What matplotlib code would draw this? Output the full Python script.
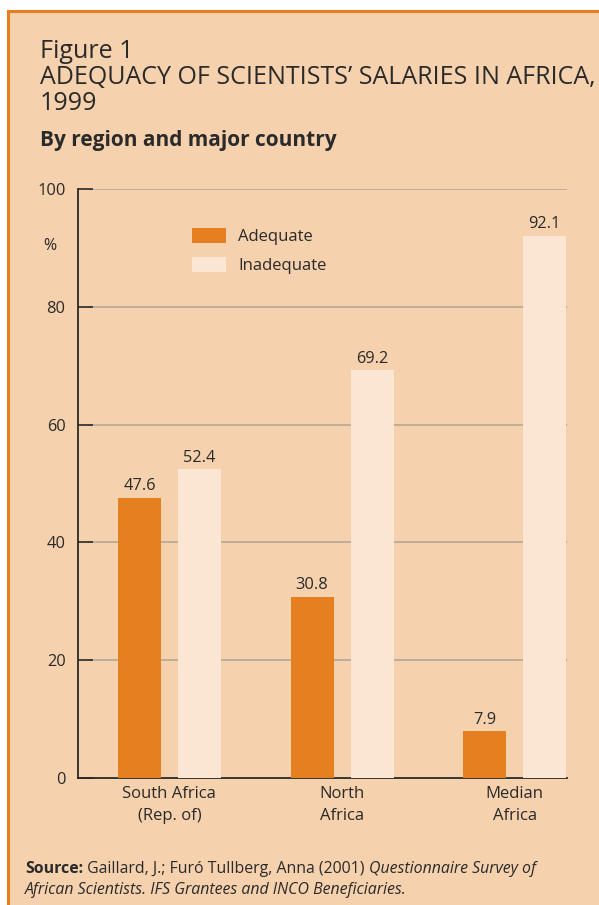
import matplotlib
matplotlib.use("Agg")
import matplotlib.pyplot as plt
import numpy as np
from matplotlib.patches import Rectangle

plt.rcParams['font.family'] = ['Open Sans', 'DejaVu Sans']

regions = ["South Africa\n(Rep. of)", "North\nAfrica", "Median\nAfrica"]
adequate = [47.6, 30.8, 7.9]
inadequate = [52.4, 69.2, 92.1]
yticks = [0, 20, 40, 60, 80, 100]

bg = '#F5D1AD'
orange = '#E4801F'
light = '#FAE6D3'
dark = '#2A2A2A'

fig = plt.figure(figsize=(5.99, 9.05), dpi=100)
fig.patch.set_facecolor('white')
# panel with orange border
panel = Rectangle((8/599, -0.01), 1.0, 1 - 11.5/905 + 0.01, transform=fig.transFigure,
                  facecolor=bg, edgecolor='#E4801F', linewidth=2.2, zorder=-5)
fig.patches.append(panel)

ax = fig.add_axes([78/599, 1 - 778/905, (567 - 78)/599, (778 - 189)/905])
ax.set_facecolor('none')
ax.set_zorder(2)

x = np.arange(len(regions))
w = 0.249
off = 0.1734
b1 = ax.bar(x - off, adequate, w, color=orange, label='Adequate', zorder=3)
b2 = ax.bar(x + off, inadequate, w, color=light, label='Inadequate', zorder=3)

for bars, vals in [(b1, adequate), (b2, inadequate)]:
    for r, v in zip(bars, vals):
        ax.annotate(f"{v:.1f}", (r.get_x() + r.get_width()/2, v), xytext=(0, 2.5),
                    textcoords='offset points', ha='center', va='bottom',
                    fontsize=11.8, color=dark)

ax.set_xlim(-0.529, 2.302)
ax.set_ylim(0, 100)
ax.set_yticks(yticks)
ax.set_yticklabels([str(t) for t in yticks], fontsize=11.8, color=dark)
ax.tick_params(axis='y', direction='in', length=11, width=1.2, color=dark, pad=9)
ax.set_xticks(x)
ax.set_xticklabels(regions, fontsize=12, color=dark, linespacing=1.5)
ax.tick_params(axis='x', length=0, pad=6)

for t in yticks[1:]:
    ax.axhline(t, xmin=11/489, xmax=1, color='#B0A494', lw=1.1, zorder=1)

for s in ['top', 'right']:
    ax.spines[s].set_visible(False)
ax.spines['left'].set_color(dark)
ax.spines['left'].set_linewidth(1.3)
ax.spines['bottom'].set_color(dark)
ax.spines['bottom'].set_linewidth(1.3)

ax.text(-0.057, 0.904, '%', transform=ax.transAxes, fontsize=11.5, color=dark, ha='center', va='center')

leg = ax.legend(loc='upper left', bbox_to_anchor=(0.22, 0.945), frameon=False,
                fontsize=12, handlelength=2.0, handleheight=1.0, labelspacing=0.72,
                handletextpad=0.75, borderaxespad=0)
for txt in leg.get_texts():
    txt.set_color(dark)

# titles
fig.text(40/599, 1 - 58/905, "Figure 1", fontsize=18, color=dark, va='baseline')
fig.text(40/599, 1 - 84/905, "ADEQUACY OF SCIENTISTS\u2019 SALARIES IN AFRICA,", fontsize=18,
         color=dark, va='baseline')
fig.text(40/599, 1 - 110/905, "1999", fontsize=18, color=dark, va='baseline')
fig.text(40/599, 1 - 146/905, "By region and major country", fontsize=15, fontweight='bold',
         color=dark, va='baseline')

# source note built from pieces
fig.canvas.draw()
renderer = fig.canvas.get_renderer()
pieces = [("Source:", 'bold', 'normal'), (" Gaillard, J.; Fur\u00f3 Tullberg, Anna (2001) ", 'normal', 'normal'),
          ("Questionnaire Survey of", 'normal', 'italic')]
xpos = 25
for s, wgt, sty in pieces:
    t = fig.text(xpos/599, 1 - 873/905, s, fontsize=11.4, fontweight=wgt, style=sty,
                 color=dark, va='baseline')
    bb = t.get_window_extent(renderer)
    xpos = bb.x1
fig.text(25/599, 1 - 894/905, "African Scientists. IFS Grantees and INCO Beneficiaries.", fontsize=11.4,
         style='italic', color=dark, va='baseline')

fig.savefig('out.png', dpi=100, facecolor=fig.get_facecolor())
